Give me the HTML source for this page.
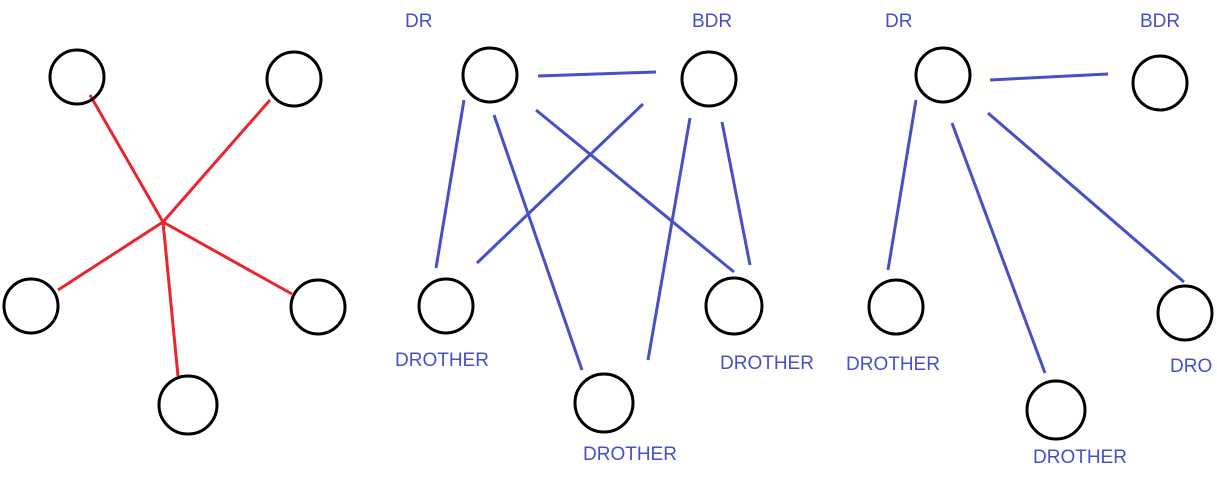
<!DOCTYPE html>
<html><head><meta charset="utf-8"><style>
html,body{margin:0;padding:0;background:#fff;width:1217px;height:495px;overflow:hidden}
svg text{font-family:"Liberation Sans",sans-serif;font-size:19px;fill:#4650c8}
</style></head><body>
<svg width="1217" height="495">
<g stroke="#e8262e" stroke-width="3">
<line x1="163" y1="222" x2="90" y2="95"/><line x1="163" y1="222" x2="270" y2="100"/>
<line x1="163" y1="222" x2="58" y2="290"/><line x1="163" y1="222" x2="292" y2="294"/>
<line x1="163" y1="222" x2="178" y2="376"/>
</g>
<g stroke="#4650c8" stroke-width="3">
<line x1="538" y1="76" x2="656" y2="72"/><line x1="464" y1="100" x2="436" y2="268"/>
<line x1="494" y1="115" x2="582" y2="370"/><line x1="536" y1="110" x2="734" y2="272"/>
<line x1="643" y1="104" x2="477" y2="263"/><line x1="690" y1="118" x2="648" y2="360"/>
<line x1="722" y1="122" x2="750" y2="265"/>
</g>
<g stroke="#4650c8" stroke-width="3">
<line x1="990" y1="80" x2="1108" y2="74"/><line x1="916" y1="100" x2="888" y2="270"/>
<line x1="952" y1="123" x2="1045" y2="373"/><line x1="988" y1="113" x2="1184" y2="282"/>
</g>
<g fill="none" stroke="#000" stroke-width="3">
<circle cx="77" cy="77" r="27"/><circle cx="294" cy="79" r="27"/><circle cx="31" cy="306" r="27"/>
<circle cx="318" cy="307" r="27"/><circle cx="188" cy="405" r="29"/>
<circle cx="490" cy="75" r="27"/><circle cx="709" cy="79" r="27"/><circle cx="446" cy="306" r="27"/>
<circle cx="734" cy="306" r="28"/><circle cx="604" cy="403" r="29"/>
<circle cx="943" cy="75" r="27"/><circle cx="1160" cy="83" r="27"/><circle cx="896" cy="307" r="27"/>
<circle cx="1185" cy="313" r="27"/><circle cx="1056" cy="410" r="29"/>
</g>
<g>
<text x="405" y="27">DR</text><text x="692" y="27">BDR</text>
<text x="395" y="366">DROTHER</text><text x="720" y="369">DROTHER</text><text x="583" y="460">DROTHER</text>
<text x="885" y="27">DR</text><text x="1140" y="27">BDR</text>
<text x="846" y="370">DROTHER</text><text x="1170" y="372">DRO</text><text x="1033" y="463">DROTHER</text>
</g>
</svg>
</body></html>
